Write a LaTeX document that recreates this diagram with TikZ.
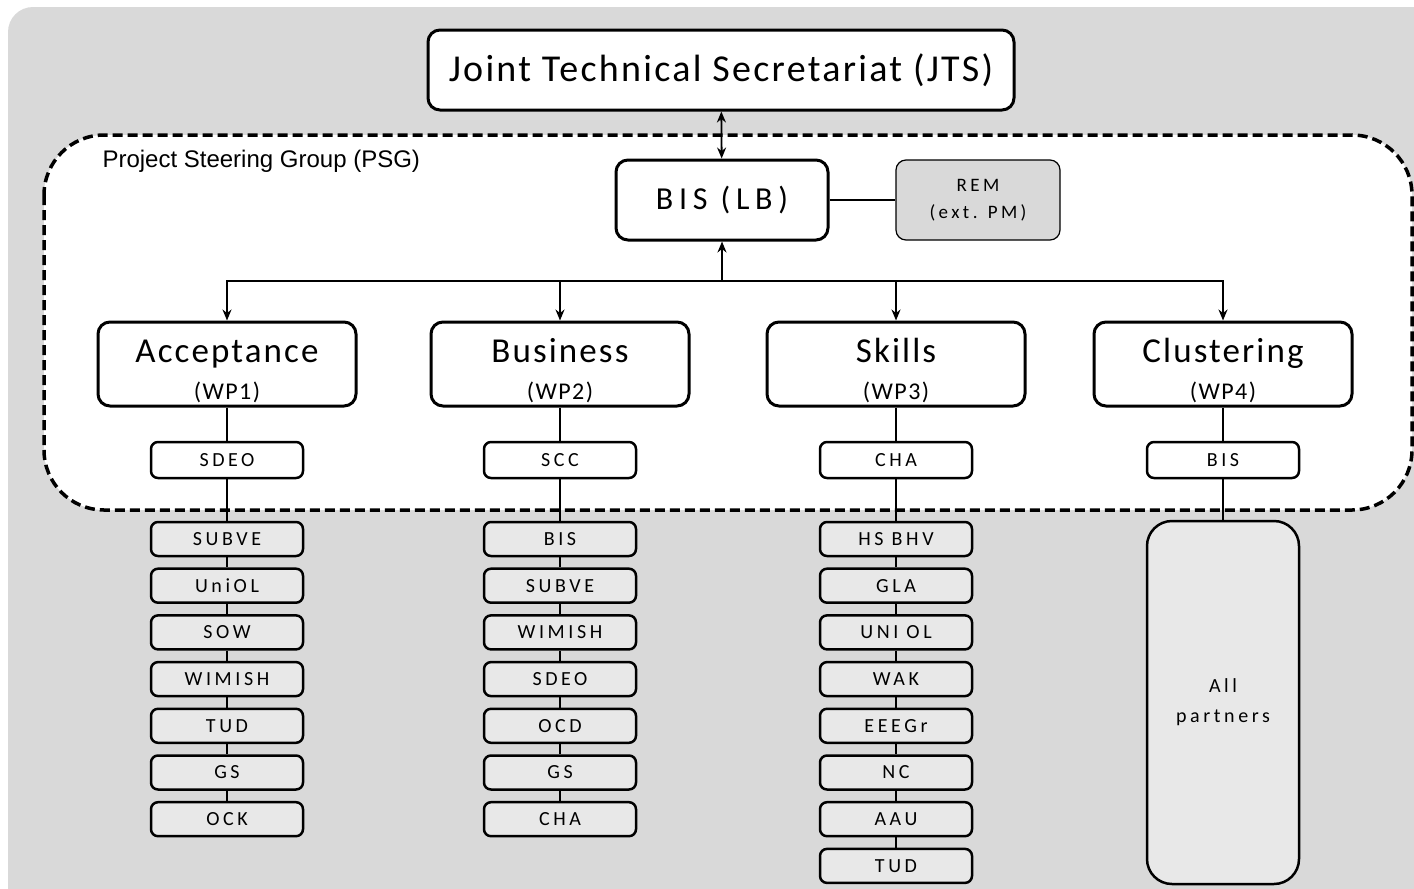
\documentclass[tikz,border=0pt]{standalone}
\usepackage{fontspec}
\setmainfont{Carlito}[LetterSpace=6]
\newfontfamily\psgfont{Liberation Sans}
\newfontfamily\widefont{Carlito}[LetterSpace=18]
\usetikzlibrary{positioning,arrows.meta}

\definecolor{panelgray}{HTML}{D9D9D9}
\definecolor{boxgray}{HTML}{E8E8E8}

\newcommand{\wptitle}[2]{\rule{0pt}{38pt}#1\\{\fontsize{24}{37}\selectfont (#2)}}

\begin{document}
\begin{tikzpicture}[x=1pt,y=-1pt,node distance=46.7pt,
  main node/.style={draw,line width=3pt,rounded corners=12pt,fill=white,inner sep=0pt,align=center},
  wp node/.style={main node,minimum width=258pt,minimum height=84pt,font=\fontsize{35}{37}\selectfont},
  lead node/.style={draw,line width=2.5pt,rounded corners=7pt,fill=white,inner sep=0pt,
    minimum width=152pt,minimum height=36pt,font=\widefont\fontsize{20}{24}\selectfont},
  partner node/.style={lead node,fill=boxgray,minimum height=34pt},
  link/.style={line width=1.8pt},
  arrow/.style={link,-{Stealth[length=11pt,width=9pt]}}]

  \useasboundingbox (0,0) rectangle (1414,889);
  \fill[panelgray,rounded corners=25pt] (8,7) rectangle (1450,920);
  \draw[line width=3.5pt,dash pattern=on 10pt off 5pt,fill=white,rounded corners=60pt]
    (44,135) rectangle (1412,510);
  \node[anchor=west,font=\psgfont\fontsize{24}{26}\selectfont] (psg) at (99,161) {Project Steering Group (PSG)};

  \node[main node,minimum width=586pt,minimum height=80pt,font=\fontsize{38}{44}\selectfont] (jts) at (721,70) {Joint Technical Secretariat (JTS)};
  \node[main node,minimum width=212pt,minimum height=80pt,font=\widefont\fontsize{32}{36}\selectfont] (lb) at (722,200) {BIS~(LB)};
  \node[draw,line width=1.2pt,rounded corners=10pt,fill=panelgray,minimum width=164pt,minimum height=80pt,
    align=center,font=\widefont\fontsize{19}{27}\selectfont] (rem) at (978,200) {REM\\(ext. PM)};

  \node[wp node] (acc) at (227,364) {\wptitle{Acceptance}{WP1}};
  \node[wp node] (bus) at (560,364) {\wptitle{Business}{WP2}};
  \node[wp node] (ski) at (896,364) {\wptitle{Skills}{WP3}};
  \node[wp node] (clu) at (1223,364) {\wptitle{Clustering}{WP4}};

  \node[lead node] (sdeo) at (227,460) {SDEO};
  \node[lead node] (scc) at (560,460) {SCC};
  \node[lead node] (cha) at (896,460) {CHA};
  \node[lead node] (bis) at (1223,460) {BIS};

  % WP1 partners
  \node[partner node] (a1) at (227,539) {SUBVE};
  \node[partner node] (a2) [below of=a1] {UniOL};
  \node[partner node] (a3) [below of=a2] {SOW};
  \node[partner node] (a4) [below of=a3] {WIMISH};
  \node[partner node] (a5) [below of=a4] {TUD};
  \node[partner node] (a6) [below of=a5] {GS};
  \node[partner node] (a7) [below of=a6] {OCK};

  % WP2 partners
  \node[partner node] (b1) at (560,539) {BIS};
  \node[partner node] (b2) [below of=b1] {SUBVE};
  \node[partner node] (b3) [below of=b2] {WIMISH};
  \node[partner node] (b4) [below of=b3] {SDEO};
  \node[partner node] (b5) [below of=b4] {OCD};
  \node[partner node] (b6) [below of=b5] {GS};
  \node[partner node] (b7) [below of=b6] {CHA};

  % WP3 partners
  \node[partner node] (c1) at (896,539) {HS BHV};
  \node[partner node] (c2) [below of=c1] {GLA};
  \node[partner node] (c3) [below of=c2] {UNI OL};
  \node[partner node] (c4) [below of=c3] {WAK};
  \node[partner node] (c5) [below of=c4] {EEEGr};
  \node[partner node] (c6) [below of=c5] {NC};
  \node[partner node] (c7) [below of=c6] {AAU};
  \node[partner node] (c8) [below of=c7] {TUD};

  % WP4 partners
  \node[partner node,minimum height=363pt,rounded corners=25pt,align=center,
    font=\widefont\fontsize{20}{30}\selectfont] (all) at (1223,702.5) {All\\partners};

  \coordinate (hub) at (722,281);
  \draw[link,{Stealth[length=11pt,width=9pt]}-{Stealth[length=11pt,width=9pt]}] (jts) -- (lb);
  \draw[link] (lb) -- (rem);
  \draw[arrow] (hub) -- (lb);
  \draw[arrow] (hub) -| (acc);
  \draw[arrow] (hub) -| (bus);
  \draw[arrow] (hub) -| (ski);
  \draw[arrow] (hub) -| (clu);

  \path[link]
    (acc) edge (sdeo) (sdeo) edge (a1) (a1) edge (a2) (a2) edge (a3)
    (a3) edge (a4) (a4) edge (a5) (a5) edge (a6) (a6) edge (a7)
    (bus) edge (scc) (scc) edge (b1) (b1) edge (b2) (b2) edge (b3)
    (b3) edge (b4) (b4) edge (b5) (b5) edge (b6) (b6) edge (b7)
    (ski) edge (cha) (cha) edge (c1) (c1) edge (c2) (c2) edge (c3)
    (c3) edge (c4) (c4) edge (c5) (c5) edge (c6) (c6) edge (c7) (c7) edge (c8)
    (clu) edge (bis) (bis) edge (all);
\end{tikzpicture}
\end{document}
